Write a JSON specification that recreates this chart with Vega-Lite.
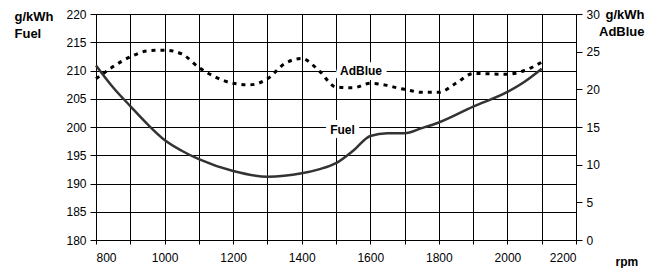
{
  "$schema": "https://vega.github.io/schema/vega-lite/v6.json",
  "width": 480,
  "height": 226,
  "autosize": {"type": "none"},
  "padding": {"left": 96, "top": 14, "right": 96, "bottom": 28},
  "background": "white",
  "config": {
    "font": "Liberation Sans",
    "view": {"stroke": null},
    "axis": {
      "labelFont": "Liberation Sans",
      "labelFontSize": 12,
      "labelColor": "#000",
      "titleFont": "Liberation Sans",
      "titleFontSize": 13,
      "titleFontWeight": "bold",
      "titleColor": "#000",
      "domainColor": "#000",
      "domainWidth": 1,
      "tickColor": "#000",
      "gridColor": "#000",
      "gridOpacity": 1,
      "gridWidth": 1
    }
  },
  "datasets": {
    "fuel": [
      {"rpm": 800, "value": 210.9},
      {"rpm": 850, "value": 207.0},
      {"rpm": 900, "value": 203.7},
      {"rpm": 950, "value": 200.5},
      {"rpm": 1000, "value": 197.7},
      {"rpm": 1050, "value": 195.8},
      {"rpm": 1100, "value": 194.3},
      {"rpm": 1200, "value": 192.2},
      {"rpm": 1300, "value": 191.2},
      {"rpm": 1400, "value": 191.8},
      {"rpm": 1450, "value": 192.5},
      {"rpm": 1500, "value": 193.6},
      {"rpm": 1550, "value": 195.8},
      {"rpm": 1600, "value": 198.4},
      {"rpm": 1650, "value": 198.9},
      {"rpm": 1700, "value": 198.9},
      {"rpm": 1750, "value": 199.8},
      {"rpm": 1800, "value": 200.8},
      {"rpm": 1900, "value": 203.6},
      {"rpm": 2000, "value": 206.2},
      {"rpm": 2050, "value": 208.0},
      {"rpm": 2100, "value": 210.3}
    ],
    "adblue": [
      {"rpm": 800, "adblue": 21.4},
      {"rpm": 900, "adblue": 24.3},
      {"rpm": 950, "adblue": 25.1},
      {"rpm": 1000, "adblue": 25.2},
      {"rpm": 1050, "adblue": 24.7},
      {"rpm": 1100, "adblue": 22.9},
      {"rpm": 1150, "adblue": 21.6},
      {"rpm": 1200, "adblue": 20.8},
      {"rpm": 1250, "adblue": 20.6},
      {"rpm": 1300, "adblue": 21.4},
      {"rpm": 1350, "adblue": 23.4},
      {"rpm": 1400, "adblue": 24.1},
      {"rpm": 1450, "adblue": 22.5},
      {"rpm": 1500, "adblue": 20.3},
      {"rpm": 1550, "adblue": 20.2},
      {"rpm": 1600, "adblue": 20.8},
      {"rpm": 1700, "adblue": 20.0},
      {"rpm": 1750, "adblue": 19.6},
      {"rpm": 1800, "adblue": 19.6},
      {"rpm": 1850, "adblue": 20.8},
      {"rpm": 1900, "adblue": 22.1},
      {"rpm": 2000, "adblue": 22.0},
      {"rpm": 2050, "adblue": 22.5},
      {"rpm": 2100, "adblue": 23.6}
    ],
    "labels": [
      {"rpm": 1573, "value": 210, "label": "AdBlue"},
      {"rpm": 1519, "value": 199.5, "label": "Fuel"}
    ]
  },
  "encoding": {
    "x": {
      "field": "rpm", "type": "quantitative",
      "scale": {"domain": [800, 2200], "nice": false},
      "axis": {
        "values": [800, 900, 1000, 1100, 1200, 1300, 1400, 1500, 1600, 1700, 1800, 1900, 2000, 2100, 2200],
        "labelExpr": "datum.value % 200 === 0 ? datum.label : ''",
        "format": "d",
        "grid": true,
        "tickSize": 4,
        "labelPadding": 8,
        "title": "rpm",
        "titleFontSize": 12,
        "titleAngle": 0,
        "titleAlign": "left",
        "titleBaseline": "alphabetic",
        "titleX": 519,
        "titleY": 25
      }
    }
  },
  "layer": [
    {
      "encoding": {
        "y": {
          "field": "value", "type": "quantitative",
          "scale": {"domain": [180, 220], "nice": false, "zero": false},
          "axis": {
            "values": [180, 185, 190, 195, 200, 205, 210, 215, 220],
            "grid": true,
            "tickSize": 6,
            "labelPadding": 4,
            "title": ["g/kWh", "Fuel"],
            "titleAngle": 0,
            "titleAlign": "left",
            "titleBaseline": "top",
            "titleLineHeight": 17,
            "titleX": -82,
            "titleY": -4
          }
        }
      },
      "layer": [
        {
          "data": {"name": "fuel"},
          "mark": {"type": "line", "interpolate": "monotone", "color": "#333", "strokeWidth": 2.5}
        },
        {
          "data": {"name": "labels"},
          "mark": {"type": "text", "stroke": "white", "strokeWidth": 10, "strokeJoin": "round", "fontWeight": "bold", "fontSize": 12, "color": "white", "baseline": "middle"},
          "encoding": {"text": {"field": "label"}}
        },
        {
          "data": {"name": "labels"},
          "mark": {"type": "text", "fontWeight": "bold", "fontSize": 12, "color": "#000", "baseline": "middle"},
          "encoding": {"text": {"field": "label"}}
        }
      ]
    },
    {
      "data": {"name": "adblue"},
      "mark": {"type": "line", "interpolate": "monotone", "color": "#000", "strokeWidth": 3, "strokeDash": [4, 5]},
      "encoding": {
        "y": {
          "field": "adblue", "type": "quantitative",
          "scale": {"domain": [0, 30], "nice": false},
          "axis": {
            "orient": "right",
            "values": [0, 5, 10, 15, 20, 25, 30],
            "grid": false,
            "tickSize": 6,
            "labelPadding": 4,
            "title": ["g/kWh", "AdBlue"],
            "titleAngle": 0,
            "titleAlign": "right",
            "titleBaseline": "top",
            "titleLineHeight": 17,
            "titleX": 68,
            "titleY": -6
          }
        }
      }
    }
  ],
  "resolve": {"scale": {"y": "independent"}}
}
